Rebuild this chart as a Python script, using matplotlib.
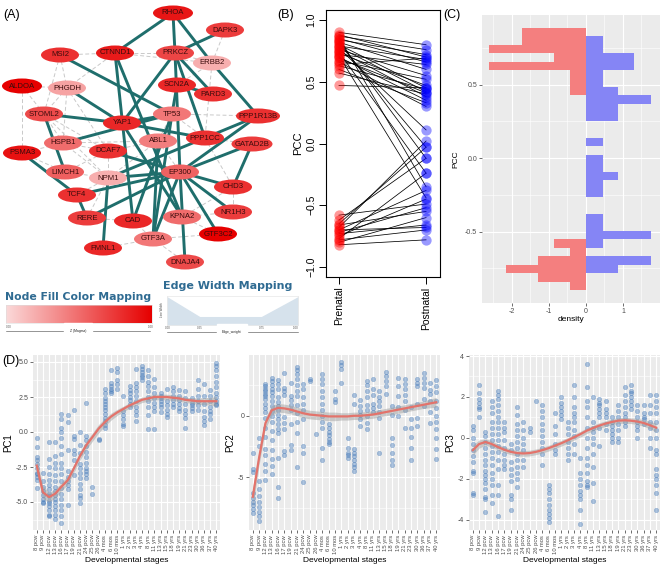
import numpy as np
import matplotlib
matplotlib.use('Agg')
import matplotlib.pyplot as plt
import matplotlib.patches as patches
from matplotlib.colors import LinearSegmentedColormap

plt.rcParams['font.family'] = ['Liberation Sans', 'DejaVu Sans']

W, H = 666, 573

# ---------------- (A) network ----------------
node_layout = {
    'RHOA': (173, 13), 'DAPK3': (225, 30), 'MSI2': (60, 55), 'CTNND1': (115, 53),
    'PRKCZ': (175, 53), 'ERBB2': (212, 63), 'ALDOA': (22, 86), 'PHGDH': (67, 88),
    'SCN2A': (177, 85), 'PARD3': (213, 94), 'STOML2': (44, 114), 'TP53': (172, 114),
    'PPP1R13B': (258, 116), 'YAP1': (122, 123), 'HSPB1': (63, 143), 'ABL1': (158, 141),
    'PPP1CC': (205, 138), 'GATAD2B': (252, 144), 'PSMA3': (22, 153), 'DCAF7': (108, 151),
    'LIMCH1': (65, 172), 'NPM1': (108, 178), 'EP300': (180, 172), 'CHD3': (233, 187),
    'TCF4': (77, 195), 'NR1H3': (233, 212), 'RERE': (87, 218), 'CAD': (133, 221),
    'KPNA2': (182, 217), 'GTF3C2': (218, 234), 'GTF3A': (153, 239), 'FMNL1': (103, 248),
    'DNAJA4': (185, 262),
}
node_z = {
    'RHOA': 0.9, 'DAPK3': 0.72, 'MSI2': 0.78, 'CTNND1': 0.88, 'PRKCZ': 0.68, 'ERBB2': 0.2,
    'ALDOA': 1.0, 'PHGDH': 0.25, 'SCN2A': 0.82, 'PARD3': 0.78, 'STOML2': 0.66, 'TP53': 0.45,
    'PPP1R13B': 0.78, 'YAP1': 0.82, 'HSPB1': 0.5, 'ABL1': 0.42, 'PPP1CC': 0.78, 'GATAD2B': 0.72,
    'PSMA3': 0.92, 'DCAF7': 0.78, 'LIMCH1': 0.56, 'NPM1': 0.2, 'EP300': 0.55, 'CHD3': 0.78,
    'TCF4': 0.78, 'NR1H3': 0.72, 'RERE': 0.72, 'CAD': 0.82, 'KPNA2': 0.5, 'GTF3C2': 1.0,
    'GTF3A': 0.45, 'FMNL1': 0.82, 'DNAJA4': 0.66,
}
thick_edges = [
    ('RHOA', 'CTNND1'), ('RHOA', 'PRKCZ'), ('RHOA', 'ERBB2'), ('DAPK3', 'PRKCZ'),
    ('ERBB2', 'PPP1R13B'), ('MSI2', 'TP53'), ('CTNND1', 'CAD'), ('CTNND1', 'KPNA2'),
    ('PRKCZ', 'YAP1'), ('PRKCZ', 'PPP1CC'), ('PRKCZ', 'PARD3'), ('PRKCZ', 'EP300'),
    ('PHGDH', 'YAP1'), ('STOML2', 'YAP1'), ('STOML2', 'LIMCH1'), ('HSPB1', 'TP53'),
    ('YAP1', 'TP53'), ('YAP1', 'PPP1CC'), ('YAP1', 'KPNA2'), ('PSMA3', 'TCF4'),
    ('SCN2A', 'PARD3'), ('SCN2A', 'TP53'), ('TP53', 'GTF3A'), ('TP53', 'CAD'),
    ('PPP1R13B', 'EP300'), ('GATAD2B', 'CHD3'), ('GATAD2B', 'EP300'), ('ABL1', 'GTF3A'),
    ('EP300', 'NPM1'), ('EP300', 'RERE'), ('EP300', 'TCF4'), ('EP300', 'CHD3'),
    ('EP300', 'NR1H3'), ('EP300', 'GTF3C2'), ('EP300', 'DNAJA4'), ('EP300', 'GTF3A'),
    ('EP300', 'DCAF7'), ('NPM1', 'FMNL1'), ('TCF4', 'RERE'), ('PPP1R13B', 'NPM1'),
]
dashed_edges = [
    ('MSI2', 'PHGDH'), ('MSI2', 'STOML2'), ('ALDOA', 'PHGDH'), ('ALDOA', 'STOML2'),
    ('ALDOA', 'PSMA3'), ('PHGDH', 'STOML2'), ('PHGDH', 'HSPB1'), ('PHGDH', 'CTNND1'),
    ('PHGDH', 'DCAF7'), ('CTNND1', 'PRKCZ'), ('CTNND1', 'ERBB2'), ('PRKCZ', 'ERBB2'),
    ('DAPK3', 'ERBB2'), ('ERBB2', 'SCN2A'), ('ERBB2', 'PPP1CC'), ('STOML2', 'HSPB1'),
    ('STOML2', 'DCAF7'), ('STOML2', 'NPM1'), ('HSPB1', 'NPM1'), ('HSPB1', 'DCAF7'),
    ('HSPB1', 'ABL1'), ('PSMA3', 'HSPB1'), ('PSMA3', 'LIMCH1'), ('LIMCH1', 'NPM1'),
    ('LIMCH1', 'DCAF7'), ('DCAF7', 'NPM1'), ('DCAF7', 'ABL1'), ('TP53', 'PPP1R13B'),
    ('TP53', 'ABL1'), ('TP53', 'PPP1CC'), ('ABL1', 'EP300'), ('ABL1', 'NPM1'),
    ('PPP1CC', 'GATAD2B'), ('PPP1CC', 'CHD3'), ('EP300', 'KPNA2'), ('KPNA2', 'GTF3C2'),
    ('KPNA2', 'CAD'), ('GTF3A', 'FMNL1'), ('GTF3A', 'GTF3C2'), ('GTF3A', 'DNAJA4'),
    ('CAD', 'GTF3A'), ('RERE', 'CAD'), ('RERE', 'NPM1'), ('TCF4', 'NPM1'),
    ('NR1H3', 'KPNA2'), ('CHD3', 'NR1H3'), ('CHD3', 'KPNA2'), ('MSI2', 'CTNND1'),
]
wide_nodes = {'PPP1R13B': 44, 'GATAD2B': 41, 'RHOA': 40, 'ALDOA': 40}

# edge width legend (edge weight -> width)
ew_x = [0.0, 0.25, 0.72, 1.0]
ew_w = [1.0, 0.3, 0.3, 1.0]

# ---------------- (B) paired PCC ----------------
pre_pcc = [0.90, 0.88, 0.87, 0.85, 0.84, 0.82, 0.80, 0.79, 0.78, 0.76, 0.75, 0.73,
           0.72, 0.70, 0.69, 0.67, 0.66, 0.64, 0.63, 0.60, 0.57, 0.47,
           0.86, 0.83, 0.81, 0.77, 0.74, 0.71,
           -0.58, -0.62, -0.65, -0.68, -0.70, -0.72, -0.73, -0.75, -0.77, -0.78,
           -0.80, -0.82, -0.70, -0.66]
post_pcc = [0.80, 0.70, 0.76, 0.66, 0.72, 0.60, 0.45, 0.68, 0.42, 0.55, 0.38, 0.47,
            0.64, 0.35, 0.41, 0.52, 0.30, 0.69, 0.44, 0.33, 0.40, 0.45,
            -0.35, -0.12, -0.03, 0.11, -0.24, -0.44,
            -0.49, -0.12, -0.03, 0.02, -0.38, -0.52, -0.66, -0.45, -0.24, -0.70,
            -0.60, -0.78, -0.68, -0.55]

# ---------------- (C) density histogram ----------------
c_top = 0.8866
c_bw = 0.0576
red_bins = [0, 1, 2, 3, 4, 5, 6, 7, 25, 26, 27, 28, 29, 30]
red_dens = [1.74, 1.74, 2.61, 0.87, 2.61, 0.42, 0.42, 0.42, 0.87, 0.42, 1.31, 2.16, 1.31, 0.42]
blue_bins = [1, 2, 3, 4, 5, 6, 7, 8, 9, 10, 13, 15, 16, 17, 18, 19, 22, 23, 24, 25, 27, 28]
blue_dens = [0.45, 0.45, 1.31, 1.31, 0.45, 0.45, 0.86, 1.76, 0.86, 0.86, 0.45, 0.45, 0.45,
             0.86, 0.45, 0.45, 0.45, 0.45, 1.76, 0.45, 1.76, 0.86]

# ---------------- (D) PCs across development ----------------
stages = ['8 pcw', '9 pcw', '12 pcw', '13 pcw', '16 pcw', '17 pcw', '19 pcw', '21 pcw',
          '24 pcw', '25 pcw', '26 pcw', '4 mos', '6 mos', '10 mos', '1 yrs', '2 yrs',
          '3 yrs', '4 yrs', '8 yrs', '11 yrs', '13 yrs', '15 yrs', '18 yrs', '19 yrs',
          '21 yrs', '23 yrs', '30 yrs', '36 yrs', '37 yrs', '40 yrs']

pc1_pts = [
    [-0.4, -1.1, -1.8, -2.0, -2.3, -2.6, -2.9, -3.0, -3.2, -3.4, -4.0],
    [-2.9, -3.5, -3.9, -4.2, -4.5, -4.8, -5.0, -5.1],
    [-0.7, -1.9, -2.5, -3.0, -3.4, -3.8, -4.1, -4.4, -4.6, -4.9, -5.1, -5.3, -5.6, -5.9, -6.0],
    [-0.7, -1.7, -2.2, -2.6, -3.1, -3.5, -3.9, -4.2, -4.5, -4.8, -5.0, -5.3, -5.6, -5.9, -6.2],
    [1.3, 0.9, 0.3, 0.0, -0.4, -1.0, -1.6, -2.2, -2.6, -3.0, -3.5, -4.0, -4.4, -4.8, -5.2, -5.6, -6.0, -6.5],
    [1.2, 0.7, -1.3, -2.8, -3.2, -3.5, -3.8, -4.1, -5.2],
    [1.6, -0.3, -0.5, -1.3, -1.6, -2.0, -3.1],
    [0.0, -0.9, -1.5, -2.3, -2.6, -2.9, -3.3, -3.7, -4.1, -4.5, -4.7, -5.1],
    [2.1, -0.3, -0.6, -1.0, -1.4, -1.8, -2.2, -2.6, -2.8, -3.0, -3.3],
    [-3.9, -4.4],
    [-0.5, -0.6],
    [3.1, 2.8, 2.4, 2.2, 2.0, 1.8, 1.6, 1.3, 1.0, 0.8, 0.5, 0.3],
    [4.4, 3.5, 3.3, 3.1, 2.9, 2.8],
    [4.6, 4.3, 3.7, 3.4, 3.1],
    [2.6, 1.5, 1.2, 0.9, 0.6, 0.4],
    [3.3, 3.0, 2.8, 2.5, 2.3, 2.0, 1.8],
    [4.5, 3.5, 3.2, 2.9, 2.6, 2.2, 1.8, 1.5, 1.2, 0.8],
    [4.7, 4.5, 4.3, 4.1, 3.9, 3.7],
    [4.4, 4.0, 3.6, 3.3, 2.9, 2.5, 2.2, 1.8, 1.2, 0.2],
    [3.8, 3.2, 2.8, 2.4, 2.1, 1.8, 1.5, 0.2],
    [2.8, 2.6, 2.4, 2.2, 2.0, 1.8, 1.4],
    [3.1, 2.2, 1.9, 1.6, 1.3, 1.1],
    [3.2, 2.9, 2.6, 2.3, 2.0, 1.8],
    [3.0, 2.6, 2.3, 2.0, 1.7, 1.5],
    [2.9, 2.4, 2.0, 1.6, 1.3, 1.0, 0.3],
    [2.4, 2.1, 1.9, 1.7, 1.5],
    [3.7, 3.1, 2.6, 2.2, 1.9, 1.6],
    [3.4, 2.6, 2.0, 1.5, 1.1, 0.8, 0.5],
    [3.0, 2.6, 2.2, 1.8, 1.5, 1.3, 0.9],
    [4.9, 4.7, 4.4, 4.0, 3.6, 3.2, 2.8, 2.5, 2.2, 2.0, 1.9],
]
pc2_pts = [
    [-3.0, -4.3, -4.6, -6.3, -6.7, -7.0, -7.3, -7.6, -7.9],
    [-1.8, -2.5, -5.3, -6.0, -6.5, -7.0, -7.4, -7.8, -8.2, -8.6],
    [2.6, 2.4, 2.2, 2.0, 1.8, 1.6, 1.4, 1.0, 0.6, 0.3, -0.2, -1.0, -1.7, -2.7, -3.2, -3.9, -4.5, -5.2],
    [3.1, 2.8, 2.5, 2.2, 1.9, 1.6, 1.2, 0.8, 0.4, 0.0, -0.5, -1.2, -2.0, -2.8, -3.5, -4.1, -4.7],
    [2.9, 2.6, 2.2, 1.5, 1.1, 0.8, 0.5, 0.1, -0.3, -0.7, -1.1, -1.4, -3.4, -5.8, -6.7],
    [3.5, 2.3, 2.0, 1.7, -0.1, -0.6, -1.1, -2.9, -3.2],
    [2.7, 1.6, 1.3, 0.9, 0.5, -0.7, -2.4, -2.8],
    [4.0, 3.7, 3.4, 3.0, 2.5, 2.0, 1.6, 0.9, 0.2, -0.5, -1.4, -4.2],
    [2.6, 2.2, 1.5, 1.0, 0.5, -0.3, -2.5, -3.0, -5.4],
    [3.0, 2.8],
    [-1.5],
    [3.4, 3.0, 2.6, 2.0, 1.5, 1.0, 0.5, 0.0, -0.5, -1.0, -2.6, -3.6],
    [-0.7, -1.0, -1.3, -1.6, -1.9, -2.1, -2.3],
    [2.0, 1.4, 1.1],
    [4.4, 4.1, 3.8, 2.7],
    [-1.8, -2.6, -3.0, -3.2, -3.4],
    [1.7, 1.0, -2.7, -3.0, -3.3, -3.6, -3.9, -4.2, -4.5],
    [1.3, 0.8, 0.4, 0.1, -0.3, -0.8],
    [2.8, 2.5, 2.0, 1.5, 0.9, 0.5, 0.0, -0.6, -1.1],
    [3.0, 2.2, 1.7, 1.0, 0.6, 0.3],
    [2.0, 1.5, 1.2, 0.8, 0.3, -0.2, -3.0],
    [3.6, 3.2, 2.8, 2.4, 1.8],
    [0.8, 0.1, -1.8, -2.4, -3.0, -3.6, -4.0],
    [3.1, 2.4, 1.6, 0.7, 0.0],
    [3.0, 2.6, 2.2, 1.7, 1.2, 0.5, -1.0],
    [0.7, -0.3, -1.0, -1.7, -2.6, -3.6],
    [3.0, 2.7, 2.4, 1.0, -0.2, -0.8],
    [3.5, 3.1, 2.7, 2.3, 1.4, 0.8],
    [2.7, 2.1, 1.8, 1.2, 0.3, -0.6],
    [2.9, 2.4, 1.9, 1.2, 0.6, 0.0, -0.5, -1.1, -1.8, -2.7, -3.5],
]
pc3_pts = [
    [0.6, 0.4, 0.0, -0.3, -0.6, -0.9, -1.2, -1.6, -1.7, -2.7, -2.8],
    [2.6, 2.2, 1.9, 1.7, 1.5, 1.4, 1.0],
    [0.3, 0.1, -0.2, -0.5, -0.8, -1.1, -1.3, -1.6, -1.8, -2.0, -2.2, -2.5, -2.9, -3.0, -3.6],
    [1.8, 1.5, 1.2, 0.8, 0.5, 0.2, -0.1, -0.4, -0.7, -1.0, -1.3, -1.7, -2.0, -2.3, -2.8, -3.2],
    [2.3, 2.1, 1.9, 1.6, 1.3, 1.0, 0.8, 0.5, 0.2, -0.1, -0.4, -0.7, -1.1, -1.5, -2.3, -2.8, -3.8],
    [0.8, 0.5, 0.3, -0.1, -0.5, -0.8, -1.1, -1.3, -1.5],
    [-0.3, -0.6, -1.2, -1.5, -1.8, -2.1, -2.8, -3.0, -3.5],
    [1.5, 1.1, 0.7, 0.4, 0.1, -0.2, -0.5, -0.8, -1.1, -1.4, -1.7, -2.0, -2.4],
    [0.8, 0.4, 0.0, -0.3, -0.6, -1.1, -1.4],
    [0.5, 0.3],
    [1.8],
    [1.6, 1.3, 1.0, 0.7, 0.4, 0.1, -0.2, -0.5, -0.8, -1.3],
    [-2.3, -2.5, -2.7, -3.0, -3.3, -3.5, -3.7, -3.9, -4.1],
    [1.2, 0.6, 0.2, -0.3, -0.6, -0.8],
    [2.0, 1.7, 1.5, 1.3, 1.1, 0.9],
    [0.8, 0.5, 0.2, -0.2, -0.5, -0.8, -1.1],
    [2.6, 2.0, 1.5, 1.2, 1.0, 0.8, 0.4, 0.1, -0.3, -0.8],
    [-1.0, -1.7, -2.0, -2.3, -2.6, -2.8, -3.0, -3.5, -4.2],
    [3.6, 2.5, 1.8, 1.5, 1.0, 0.5, 0.0, -0.5, -1.0, -1.3, -1.7, -2.1, -2.3, -2.4],
    [2.0, 0.8, 0.5, 0.3, 0.0, -0.3, -0.8, -1.4, -2.2, -3.1],
    [1.9, 1.7, 1.6, 1.4, 1.2, 1.0, 0.5, -0.4],
    [1.8, 1.4, 1.2, 1.0, 0.7, 0.4],
    [1.0, 0.8, 0.6, 0.4, 0.2, 0.0, -0.2],
    [1.6, 1.3, 1.0, 0.7, 0.4, 0.0, -0.2],
    [2.5, 2.1, 1.8, 1.5, 1.2, 1.0, 0.8, 0.6],
    [2.6, 2.3, 2.2, 2.0, 1.8, 1.6, 1.4],
    [1.6, 1.3, 1.0, 0.8, 0.6, 0.4, 0.0],
    [1.6, 1.2, 1.0, 0.9, 0.7],
    [2.1, 1.6, 1.2, 0.8, 0.5, 0.0, -0.5],
    [2.1, 1.8, 1.5, 1.2, 0.8, 0.4, 0.0, -0.6, -0.8, -1.5, -1.8, -2.0, -2.3, -2.7, -3.5],
]

pc1_fit = [-2.4, -4.3, -4.65, -4.4, -3.9, -3.45, -2.6, -1.7, -0.95, -0.36, 0.24, 0.7, 1.1, 1.4,
           1.65, 1.9, 2.1, 2.3, 2.4, 2.5, 2.5, 2.5, 2.45, 2.4, 2.3, 2.25, 2.2, 2.2, 2.2, 2.2]
pc1_se = [0.6, 0.45, 0.35, 0.3, 0.3, 0.3, 0.3, 0.3, 0.3, 0.3, 0.3, 0.28, 0.25, 0.22, 0.2,
          0.2, 0.2, 0.2, 0.2, 0.2, 0.2, 0.2, 0.2, 0.2, 0.2, 0.2, 0.22, 0.25, 0.28, 0.35]
pc2_fit = [-6.6, -3.4, -0.6, 0.45, 0.65, 0.6, 0.5, 0.35, 0.2, 0.1, 0.05, 0.0, -0.05, -0.05,
           -0.05, -0.05, 0.0, 0.0, 0.05, 0.1, 0.2, 0.3, 0.4, 0.5, 0.6, 0.7, 0.8, 0.9, 1.0, 1.1]
pc2_se = [0.8, 0.6, 0.45, 0.4, 0.35, 0.35, 0.35, 0.35, 0.35, 0.35, 0.35, 0.35, 0.35, 0.35,
          0.3, 0.3, 0.3, 0.3, 0.3, 0.3, 0.3, 0.3, 0.3, 0.3, 0.3, 0.3, 0.3, 0.3, 0.35, 0.4]
pc3_fit = [-0.6, -0.3, -0.2, -0.3, -0.45, -0.58, -0.68, -0.74, -0.76, -0.74, -0.68, -0.6,
           -0.5, -0.38, -0.26, -0.12, 0.03, 0.18, 0.35, 0.48, 0.6, 0.7, 0.78, 0.84, 0.86,
           0.84, 0.8, 0.73, 0.62, 0.5]
pc3_se = [0.25, 0.2, 0.16, 0.15, 0.14, 0.14, 0.14, 0.14, 0.14, 0.14, 0.14, 0.14, 0.14, 0.14,
          0.14, 0.14, 0.14, 0.14, 0.14, 0.14, 0.14, 0.14, 0.14, 0.14, 0.14, 0.14, 0.15, 0.16,
          0.18, 0.22]


def px_axes(fig, x0, y0, x1, y1):
    # box given in image pixels, origin top-left
    return fig.add_axes([x0 / W, 1 - y1 / H, (x1 - x0) / W, (y1 - y0) / H])


fig = plt.figure(figsize=(W / 100, H / 100), dpi=100)
fig.patch.set_facecolor('white')

# ---- panel A ----
node_cmap = LinearSegmentedColormap.from_list('nodes', ['#fbd9d9', '#e60000'])
axA = px_axes(fig, 0, 0, 320, 285)
axA.set_xlim(0, 320)
axA.set_ylim(285, 0)
axA.axis('off')
for a, b in dashed_edges:
    (x1, y1), (x2, y2) = node_layout[a], node_layout[b]
    axA.plot([x1, x2], [y1, y2], color='#c9c9c9', lw=0.7, ls=(0, (4, 2.5)), zorder=1)
for a, b in thick_edges:
    (x1, y1), (x2, y2) = node_layout[a], node_layout[b]
    axA.plot([x1, x2], [y1, y2], color='#1f6e6c', lw=2.1, zorder=2, solid_capstyle='butt')
for name, (x, y) in node_layout.items():
    w = wide_nodes.get(name, 38)
    axA.add_patch(patches.Ellipse((x, y), w, 15, fc=node_cmap(node_z[name]), ec='none', zorder=3))
    axA.text(x, y, name, ha='center', va='center', fontsize=5.6, color='#3b0c0c', zorder=4)

fig.text(3 / W, 1 - 15 / H, '(A)', fontsize=9, va='center', ha='left')

# node colour legend
fig.text(5 / W, 1 - 297 / H, 'Node Fill Color Mapping', fontsize=7.8, fontweight='bold',
         color='#2f6b92', va='center', ha='left', family='DejaVu Sans')
axg = px_axes(fig, 6, 305, 152, 323)
axg.imshow(np.linspace(0, 1, 256)[None, :], aspect='auto', cmap=node_cmap, extent=(0, 1, 0, 1))
axg.set_xticks([])
axg.set_yticks([])
for s in axg.spines.values():
    s.set_color('#dddddd')
    s.set_linewidth(0.4)
fig.text(6 / W, 1 - 327 / H, '0.00', fontsize=2.2, color='#555555', va='center')
fig.text(148 / W, 1 - 327 / H, '1.00', fontsize=2.2, color='#555555', va='center')
fig.add_artist(plt.Line2D([6 / W, 150 / W], [1 - 331 / H, 1 - 331 / H], color='#444444', lw=0.4))
fig.text(78 / W, 1 - 331 / H, 'Z (Magma)', fontsize=2.4, color='#222222', va='center',
         ha='center', backgroundcolor='white')

# edge width legend
fig.text(163 / W, 1 - 286 / H, 'Edge Width Mapping', fontsize=8.0, fontweight='bold',
         color='#2f6b92', va='center', ha='left', family='DejaVu Sans')
axw = px_axes(fig, 167, 296, 298, 325)
axw.fill_between(ew_x, ew_w, color='#d6e2ec', lw=0)
axw.set_xlim(0, 1)
axw.set_ylim(0, 1.02)
axw.set_xticks([])
axw.set_yticks([])
for s in axw.spines.values():
    s.set_color('#e2e2e2')
    s.set_linewidth(0.4)
fig.text(160 / W, 1 - 310 / H, 'Line Width', fontsize=2.2, rotation=90, va='center', color='#444444')
fig.add_artist(plt.Line2D([167 / W, 298 / W], [1 - 332 / H, 1 - 332 / H], color='#444444', lw=0.4))
fig.text(232 / W, 1 - 332 / H, 'Edge_weight', fontsize=2.4, color='#222222', va='center',
         ha='center', backgroundcolor='white')
for xv, lab in zip([168, 200, 262, 296], ['0.00', '0.25', '0.75', '1.00']):
    fig.text(xv / W, 1 - 328 / H, lab, fontsize=2.2, color='#555555', va='center', ha='center')

# ---- panel B ----
axB = px_axes(fig, 326, 10, 440, 277)
for a, b in zip(pre_pcc, post_pcc):
    axB.plot([0, 1], [a, b], color='black', lw=0.55, zorder=2)
axB.scatter(np.zeros(len(pre_pcc)), pre_pcc, s=55, color='red', alpha=0.4, lw=0, zorder=3)
axB.scatter(np.ones(len(post_pcc)), post_pcc, s=55, color='blue', alpha=0.4, lw=0, zorder=3)
axB.set_xlim(-0.149, 1.16)
axB.set_ylim(-1.081, 1.081)
axB.set_yticks([-1, -0.5, 0, 0.5, 1])
axB.set_yticklabels(['\u22121.0', '\u22120.5', '0.0', '0.5', '1.0'], rotation=90, va='center')
axB.set_xticks([0, 1])
axB.set_xticklabels(['Prenatal', 'Postnatal'], rotation=90)
axB.tick_params(labelsize=7.5, length=5, width=0.7, pad=2)
axB.set_ylabel('PCC', fontsize=8, labelpad=2)
for s in axB.spines.values():
    s.set_linewidth(0.8)
fig.text(277 / W, 1 - 15 / H, '(B)', fontsize=9, va='center', ha='left')
fig.text(443 / W, 1 - 15 / H, '(C)', fontsize=9, va='center', ha='left')


def gg_style(ax, fs=5):
    ax.set_facecolor('#EBEBEB')
    for s in ax.spines.values():
        s.set_visible(False)
    ax.grid(True, which='major', color='white', lw=0.8)
    ax.grid(True, which='minor', color='white', lw=0.4)
    ax.set_axisbelow(True)
    ax.tick_params(which='major', labelsize=fs, length=2, width=0.5, color='#333333',
                   labelcolor='#4D4D4D', pad=1.5)
    ax.tick_params(which='minor', length=0)


# ---- panel C ----
axC = px_axes(fig, 482, 15, 660, 303)
gg_style(axC)
red_y = [c_top - (j + 0.5) * c_bw for j in red_bins]
blue_y = [c_top - (j + 0.5) * c_bw for j in blue_bins]
axC.barh(red_y, [-d for d in red_dens], height=c_bw, color='#F47F7F', lw=0)
axC.barh(blue_y, blue_dens, height=c_bw, color='#8585F5', lw=0)
axC.set_xlim(-2.81, 2.0)
axC.set_ylim(-0.986, 0.973)
axC.set_xticks([-2, -1, 0, 1])
axC.set_xticklabels(['-2', '-1', '0', '1'])
axC.set_xticks([-2.5, -1.5, -0.5, 0.5, 1.5], minor=True)
axC.set_yticks([-0.5, 0, 0.5])
axC.set_yticklabels(['-0.5', '0.0', '0.5'])
axC.set_yticks([-0.75, -0.25, 0.25, 0.75], minor=True)
axC.set_xlabel('density', fontsize=6, labelpad=1)
axC.set_ylabel('PCC', fontsize=6, labelpad=4)

# ---- panel D ----
d_specs = [
    ((33, 355, 220, 530), pc1_pts, pc1_fit, pc1_se, 'PC1', (-7.0, 5.5),
     [-5, -2.5, 0, 2.5, 5], ['-5.0', '-2.5', '0.0', '2.5', '5.0'], [-6.25, -3.75, -1.25, 1.25, 3.75]),
    ((249, 355, 440, 530), pc2_pts, pc2_fit, pc2_se, 'PC2', (-9.3, 4.95),
     [-5, 0], ['-5', '0'], [-7.5, -2.5, 2.5]),
    ((469, 355, 660, 530), pc3_pts, pc3_fit, pc3_se, 'PC3', (-4.5, 4.05),
     [-4, -2, 0, 2, 4], ['-4', '-2', '0', '2', '4'], [-3, -1, 1, 3]),
]
xs = np.arange(len(stages))
for box, pts, fit, se, lab, ylim, yt, ytl, ymin in d_specs:
    ax = px_axes(fig, *box)
    gg_style(ax)
    for i, col in enumerate(pts):
        ax.scatter(np.full(len(col), xs[i]), col, s=11, color='#3B73B6', alpha=0.42, lw=0.3,
                   edgecolors='#3B73B6', zorder=2)
    fit = np.array(fit)
    se = np.array(se)
    ax.fill_between(xs, fit - se, fit + se, color='#9a9a9a', alpha=0.45, lw=0, zorder=3)
    ax.plot(xs, fit, color='#E3736B', lw=1.6, zorder=4)
    ax.set_xlim(-0.6, len(stages) - 0.4)
    ax.set_ylim(*ylim)
    ax.set_xticks(xs)
    ax.set_xticklabels(stages, rotation=90, fontsize=4.2)
    ax.set_yticks(yt)
    ax.set_yticklabels(ytl)
    ax.set_yticks(ymin, minor=True)
    ax.set_ylabel(lab, fontsize=7, labelpad=2)
    ax.set_xlabel('Developmental stages', fontsize=6, labelpad=2)

fig.text(2 / W, 1 - 361 / H, '(D)', fontsize=9, va='center', ha='left')

fig.savefig('out.png', dpi=100, facecolor='white')
